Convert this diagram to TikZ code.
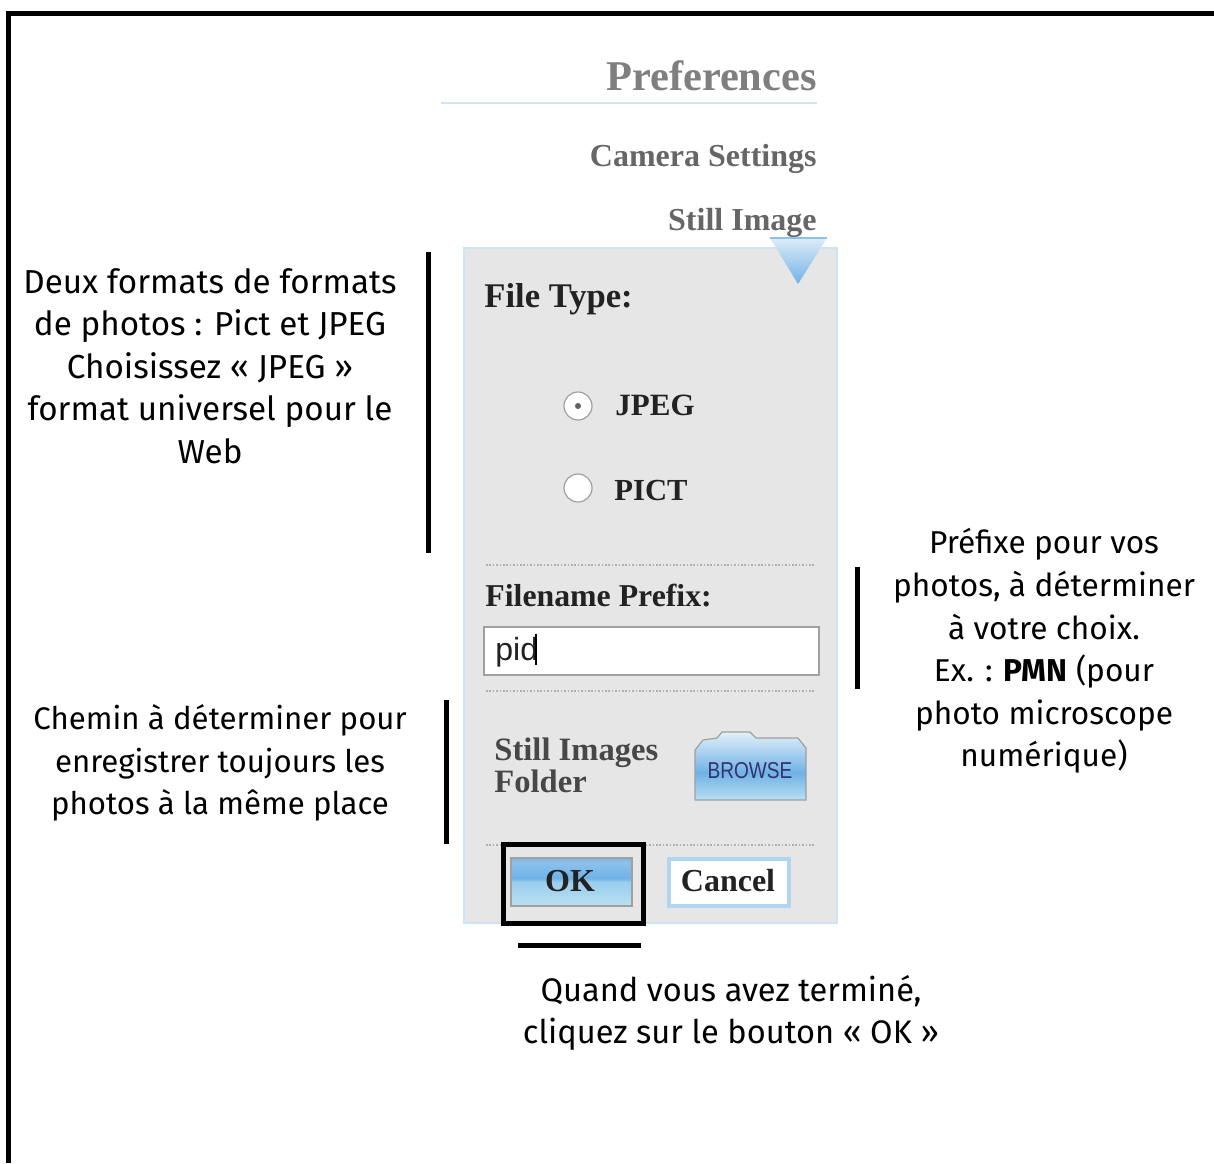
\documentclass[tikz,border=0pt]{standalone}
\usepackage{fontspec}
\setmainfont{Fira Sans}
\newfontfamily\uifont{Liberation Serif}
\newfontfamily\uisans{Liberation Sans}
\usetikzlibrary{shadings}
\definecolor{panelgray}{HTML}{E6E6E6}
\definecolor{paleblue}{HTML}{CFE4F2}
\definecolor{headgray}{HTML}{7F7F7F}
\definecolor{subgray}{HTML}{666666}
\definecolor{uiblack}{HTML}{222222}
\definecolor{btnblue}{HTML}{6FB2E6}
\definecolor{btnpale}{HTML}{B9E0F2}
\definecolor{fieldedge}{HTML}{A0A0A0}
\definecolor{dotgray}{HTML}{AFAFAF}
\pgfdeclareverticalshading{okshade}{100bp}{
  color(0bp)=(btnpale); color(25bp)=(btnpale); color(50bp)=(btnpale!60!btnblue); color(54bp)=(btnblue); color(70bp)=(btnblue!80!white); color(100bp)=(btnblue!70!black)}
\pgfdeclareverticalshading{browseshade}{100bp}{
  color(0bp)=(btnpale!80!white); color(25bp)=(btnpale); color(45bp)=(btnblue); color(60bp)=(btnblue!60!white); color(75bp)=(paleblue!60!white); color(100bp)=(paleblue!80!white)}
\tikzset{
  note/.style={align=center,text=black,inner sep=0pt},
  bar/.style={line width=2.5pt,black},
  uititle/.style={anchor=base east,inner sep=0pt,font=\uifont\bfseries},
  uilabel/.style={anchor=base west,inner sep=0pt,text=uiblack},
  dotsep/.style={dotgray,line width=0.8pt,dash pattern=on 0.8pt off 0.9pt},
  radio/.style={circle,draw=fieldedge,fill=white,line width=0.6pt,minimum size=14pt,inner sep=0pt},
}
\begin{document}
\begin{tikzpicture}[x=0.5pt,y=-0.5pt]
\useasboundingbox (0,0) rectangle (1214,1163);
\fill[white] (0,0) rectangle (1214,1163);
% outer frame
\draw[black,line width=2.5pt] (8.5,1163) -- (8.5,13.5) -- (1214,13.5);
% headings
\node[uititle,text=headgray,font=\uifont\bfseries\fontsize{21.2}{21}\selectfont] (pref) at (817,90) {Preferences};
\draw[paleblue,line width=1pt] (441,103) -- (817,103);
\node[uititle,text=subgray,font=\uifont\bfseries\fontsize{16}{16}\selectfont] (cam) at (817,166) {Camera Settings};
\node[uititle,text=subgray,font=\uifont\bfseries\fontsize{16}{16}\selectfont] (still) at (817,230) {Still Image};
% panel
\draw[paleblue,fill=panelgray,line width=1.2pt] (464,248) rectangle (837,923);
% triangle
\shade[top color=paleblue!70!white,bottom color=btnblue] (770,238) -- (827,238) -- (798,284) -- cycle;
\draw[btnblue!80!white,line width=0.6pt] (770,238) -- (827,238);
% file type
\node[uilabel,font=\uifont\bfseries\fontsize{17.3}{17}\selectfont] (ftype) at (484,307) {File Type:};
\node[radio] (rjpeg) at (578,406) {};
\fill[fieldedge!60!black] (rjpeg.center) circle (1.5pt);
\node[uilabel,font=\uifont\bfseries\fontsize{15.5}{15}\selectfont] (ljpeg) at (615,415) {JPEG};
\node[radio] (rpict) at (578,488) {};
\node[uilabel,font=\uifont\bfseries\fontsize{15.3}{15}\selectfont] (lpict) at (614,500) {PICT};
\draw[dotsep] (486,565) -- (815,565);
% prefix
\node[uilabel,font=\uifont\bfseries\fontsize{15.9}{16}\selectfont] (fprefix) at (485,606) {Filename Prefix:};
\draw[fieldedge,fill=white,line width=1pt] (484,627) rectangle (819,675);
\node[anchor=base west,inner sep=0pt,font=\uisans\fontsize{16}{16}\selectfont,text=uiblack] (pid) at (495,660) {pid};
\draw[black,line width=1.2pt] (536,634) -- (536,665);
\draw[dotsep] (486,691) -- (815,691);
% folder
\node[anchor=base west,align=left,inner sep=0pt,font=\uifont\bfseries\fontsize{16.3}{15.8}\selectfont,text=subgray!70!black] (sif) at (494,792) {Still Images\\Folder};
\shade[shading=browseshade,draw=fieldedge,line width=0.6pt]
  (695,800) -- (695,750) -- (703,740) -- (717,738) -- (722,732) -- (750,732) -- (756,738) -- (798,738) -- (806,748) -- (806,800) -- cycle;
\node[inner sep=0pt,xscale=0.83,font=\uisans\fontsize{11.5}{12}\selectfont,text=blue!30!black!80] (browse) at (750,771) {BROWSE};
\draw[dotsep] (486,845) -- (815,845);
% buttons
\shade[shading=okshade,draw=fieldedge,line width=0.6pt] (511,858) rectangle (632,906);
\node[inner sep=0pt,font=\uifont\bfseries\fontsize{16}{16}\selectfont,text=uiblack] (ok) at (570,881) {OK};
\draw[btnblue!55!white,fill=white,line width=1.6pt] (669,859) rectangle (789,906);
\node[inner sep=0pt,font=\uifont\bfseries\fontsize{16}{16}\selectfont,text=uiblack] (cancel) at (728,881) {Cancel};
% highlight box
\draw[black,line width=2.5pt] (503,844) rectangle (643,923);
% bars
\draw[bar] (428,252) -- (428,553);
\draw[bar] (857,567) -- (857,689);
\draw[bar] (446,700) -- (446,844);
\draw[bar] (518,945) -- (641,945);
% notes
\node[note,font=\fontsize{16.6}{21.3}\selectfont] (n1) at (210,366) {Deux formats de formats\\de photos : Pict et JPEG\\Choisissez « JPEG »\\format universel pour le\\Web};
\node[note,font=\fontsize{15.8}{21.3}\selectfont] (n2) at (1044,651) {Préfixe pour vos\\photos, à déterminer\\à votre choix.\\Ex. : \textbf{PMN} (pour\\photo microscope\\numérique)};
\node[note,font=\fontsize{15.6}{21.3}\selectfont] (n3) at (220,763) {Chemin à déterminer pour\\enregistrer toujours les\\photos à la même place};
\node[note,font=\fontsize{16.3}{21.3}\selectfont] (n4) at (731,1013) {Quand vous avez terminé,\\cliquez sur le bouton « OK »};
\end{tikzpicture}
\end{document}
